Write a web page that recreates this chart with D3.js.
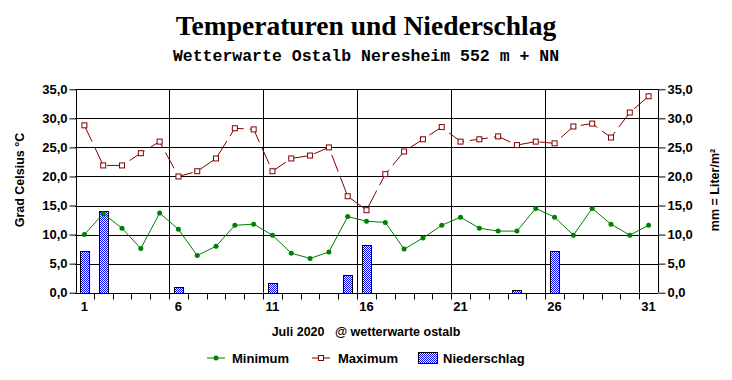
<!DOCTYPE html>
<html>
<head>
<meta charset="utf-8">
<script src="https://cdn.jsdelivr.net/npm/d3@7"></script>
<style>
  body { margin: 0; background: #fff; }
  text { font-family: "Liberation Sans", Arial, sans-serif; font-weight: bold; }
</style>
</head>
<body>
<div id="chart"></div>
<script>
// Data (Juli 2020)
const days = d3.range(1, 32);
const minimum = [10.0, 13.6, 11.1, 7.6, 13.7, 10.9, 6.4, 8.0, 11.6, 11.8,
                 9.9, 6.8, 5.9, 7.0, 13.1, 12.3, 12.1, 7.5, 9.4, 11.6,
                 13.0, 11.1, 10.6, 10.6, 14.5, 13.0, 9.9, 14.5, 11.8, 9.9, 11.6];
const maximum = [28.8, 21.9, 21.9, 24.0, 26.0, 20.0, 20.9, 23.1, 28.3, 28.1,
                 20.9, 23.1, 23.6, 25.0, 16.6, 14.2, 20.4, 24.3, 26.4, 28.5,
                 26.0, 26.4, 26.9, 25.4, 26.0, 25.7, 28.6, 29.1, 26.7, 31.0, 33.8];
const niederschlag = [7.1, 14.1, 0, 0, 0, 0.9, 0, 0, 0, 0,
                      1.7, 0, 0, 0, 3.0, 8.2, 0, 0, 0, 0,
                      0, 0, 0, 0.4, 0, 7.1, 0, 0, 0, 0, 0];
const labelDays = [1, 6, 11, 16, 21, 26, 31];
const yTicks = [0, 5, 10, 15, 20, 25, 30, 35];

const W = 732, H = 380;
const pLeft = 75, pRight = 658, pTop = 89.3, pBottom = 292.7;

const svg = d3.select("#chart").append("svg")
    .attr("width", W).attr("height", H);

// blue dotted fill for the precipitation bars
const pat = svg.append("defs").append("pattern")
    .attr("id", "dots").attr("patternUnits", "userSpaceOnUse")
    .attr("width", 2).attr("height", 2);
pat.append("rect").attr("width", 2).attr("height", 2).attr("fill", "#fff");
pat.append("rect").attr("width", 1).attr("height", 1).attr("fill", "#0000ff");
pat.append("rect").attr("x", 1).attr("y", 1).attr("width", 1).attr("height", 1).attr("fill", "#0000ff");

const x = d3.scaleBand().domain(days).range([pLeft, pRight]);
const y = d3.scaleLinear().domain([0, 35]).range([pBottom, pTop]);
const fmt = d => d3.format(".1f")(d).replace(".", ",");
const cx = d => x(d) + x.bandwidth() / 2;
const snap = v => Math.round(v) + 0.5;

// titles
svg.append("text").attr("x", 366).attr("y", 35).attr("text-anchor", "middle")
    .style("font-family", "'Liberation Serif', 'Times New Roman', serif")
    .style("font-size", "27.5px").text("Temperaturen und Niederschlag");
svg.append("text").attr("x", 366).attr("y", 61).attr("text-anchor", "middle")
    .style("font-family", "'Liberation Mono', 'Courier New', monospace")
    .style("font-size", "16.5px").text("Wetterwarte Ostalb Neresheim 552 m + NN");

// horizontal grid
svg.append("g").selectAll("line").data(yTicks.filter(d => d > 0)).join("line")
    .attr("x1", pLeft).attr("x2", pRight)
    .attr("y1", d => snap(y(d))).attr("y2", d => snap(y(d)))
    .attr("stroke", "#000");

// vertical grid at every fifth day boundary
svg.append("g").selectAll("line").data([6, 11, 16, 21, 26, 31]).join("line")
    .attr("x1", d => snap(x(d))).attr("x2", d => snap(x(d)))
    .attr("y1", pTop).attr("y2", pBottom)
    .attr("stroke", "#000");

// precipitation bars (pixel-snapped so the outline stays crisp)
svg.append("g").selectAll("rect").data(days.filter((d, i) => niederschlag[i] > 0)).join("rect")
    .attr("x", d => snap(cx(d) - x.bandwidth() / 4))
    .attr("width", Math.round(x.bandwidth() / 2))
    .attr("y", d => snap(y(niederschlag[d - 1])))
    .attr("height", d => snap(pBottom) - snap(y(niederschlag[d - 1])))
    .attr("fill", "url(#dots)").attr("stroke", "#000");

// maximum line (dashed) + square markers
svg.append("path").datum(days)
    .attr("d", d3.line().x(cx).y(d => y(maximum[d - 1])))
    .attr("fill", "none").attr("stroke", "#800000").attr("stroke-dasharray", "18,6");
svg.append("g").selectAll("rect").data(days).join("rect")
    .attr("x", d => cx(d) - 2.5).attr("y", d => y(maximum[d - 1]) - 2.5)
    .attr("width", 5).attr("height", 5)
    .attr("fill", "#fff").attr("stroke", "#800000");

// minimum line + dot markers
svg.append("path").datum(days)
    .attr("d", d3.line().x(cx).y(d => y(minimum[d - 1])))
    .attr("fill", "none").attr("stroke", "#008000");
svg.append("g").selectAll("circle").data(days).join("circle")
    .attr("cx", cx).attr("cy", d => y(minimum[d - 1])).attr("r", 2.5)
    .attr("fill", "#008000");

// axes
const leftAxis = svg.append("g").attr("transform", `translate(${pLeft + 1.5},0)`)
    .call(d3.axisLeft(y).tickValues(yTicks).tickFormat(fmt).tickSize(7).tickPadding(2));
const rightAxis = svg.append("g").attr("transform", `translate(${pRight + 0.5},0)`)
    .call(d3.axisRight(y).tickValues(yTicks).tickFormat(fmt).tickSize(7).tickPadding(2));
[leftAxis, rightAxis].forEach(a => {
  a.select(".domain").attr("d", `M0,${pTop}V${pBottom}`);
  a.selectAll("text").style("font-size", "13px").attr("fill", "#000");
});

// bottom axis: ticks on day boundaries, labels on day centres
const bx = svg.append("g").attr("transform", `translate(0,${snap(pBottom)})`);
bx.append("line").attr("x1", pLeft).attr("x2", pRight).attr("stroke", "#000");
bx.selectAll("line.t").data(days.slice(1)).join("line").attr("class", "t")
    .attr("x1", d => snap(x(d))).attr("x2", d => snap(x(d)))
    .attr("y1", 0).attr("y2", 6).attr("stroke", "#000");
bx.selectAll("text").data(labelDays).join("text")
    .attr("x", cx).attr("y", 17).attr("text-anchor", "middle")
    .style("font-size", "13px").text(d => d);

// axis titles
svg.append("text").attr("transform", "translate(24,180) rotate(-90)")
    .attr("text-anchor", "middle").style("font-size", "12.5px").text("Grad Celsius °C");
svg.append("text").attr("transform", "translate(719,190) rotate(-90)")
    .attr("text-anchor", "middle").style("font-size", "12.5px").text("mm = Liter/m²");

svg.append("text").attr("x", 366).attr("y", 336).attr("text-anchor", "middle")
    .style("font-size", "12.5px").attr("xml:space", "preserve")
    .text("Juli 2020   @ wetterwarte ostalb");

// legend
const lg = svg.append("g").attr("transform", "translate(0,358)");
lg.append("line").attr("x1", 207).attr("x2", 225).attr("stroke", "#008000");
lg.append("circle").attr("cx", 216).attr("r", 2.5).attr("fill", "#008000");
lg.append("text").attr("x", 232).attr("y", 5).style("font-size", "13px").text("Minimum");
lg.append("line").attr("x1", 312).attr("x2", 330).attr("stroke", "#800000");
lg.append("rect").attr("x", 318.5).attr("y", -2.5).attr("width", 5).attr("height", 5)
    .attr("fill", "#fff").attr("stroke", "#800000");
lg.append("text").attr("x", 338).attr("y", 5).style("font-size", "13px").text("Maximum");
lg.append("rect").attr("x", 418.5).attr("y", -5.5).attr("width", 19).attr("height", 11)
    .attr("fill", "url(#dots)").attr("stroke", "#000");
lg.append("text").attr("x", 443).attr("y", 5).style("font-size", "13px").text("Niederschlag");
</script>
</body>
</html>
